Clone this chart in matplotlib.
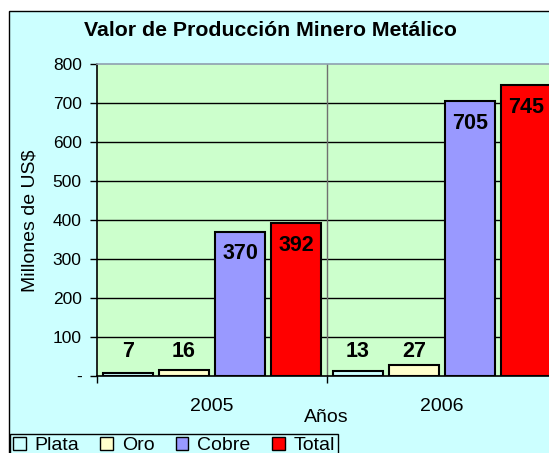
import numpy as np
import matplotlib
matplotlib.use("Agg")
import matplotlib.pyplot as plt
from matplotlib.patches import Rectangle
from matplotlib.ticker import FixedLocator, FuncFormatter

plt.rcParams['font.family'] = ['Liberation Sans', 'DejaVu Sans']

years = ["2005", "2006"]
series = ["Plata", "Oro", "Cobre", "Total"]
plata = [7, 13]
oro = [16, 27]
cobre = [370, 705]
total = [392, 745]
values = [plata, oro, cobre, total]
colors = ["#CCFFFF", "#FFFFCC", "#9999FF", "#FF0000"]
yticks = [0, 100, 200, 300, 400, 500, 600, 700, 800]

W, H = 549, 453
fig = plt.figure(figsize=(W / 100, H / 100), dpi=100)
fig.patch.set_facecolor("white")

# outer chart area frame
fig.patches.append(Rectangle((9 / W, -0.05), 1.1, 1 - 11 / H + 0.05,
                             transform=fig.transFigure, facecolor="#CCFFFF",
                             edgecolor="black", linewidth=1.0, zorder=-10))

ax = fig.add_axes([97 / W, 1 - 376 / H, 460 / W, 312 / H])
ax.set_facecolor("#CCFFCC")

x = np.arange(len(years))
step = 0.2435
width = 0.2196
bars = []
for i, (name, vals, col) in enumerate(zip(series, values, colors)):
    b = ax.bar(x + (i - 1.5) * step, vals, width, color=col, edgecolor="black",
               linewidth=1.5, label=name, zorder=3)
    bars.append(b)
    for xi, v in zip(x + (i - 1.5) * step, vals):
        if v < 100:
            ax.text(xi, 62, f"{v}", ha="center", va="center", fontsize=15.5,
                    fontweight="bold", zorder=4)
        else:
            ax.annotate(f"{v}", (xi, v), xytext=(0, -22), textcoords="offset pixels",
                        ha="center", va="center", fontsize=15.5, fontweight="bold", zorder=4)

ax.set_xlim(-0.5, 1.5)
ax.set_ylim(0, 800)
ax.set_yticks(yticks)
ax.yaxis.set_major_formatter(FuncFormatter(lambda v, p: "-" if v == 0 else f"{int(v)}"))
ax.tick_params(axis="y", direction="out", length=5, width=1, labelsize=12.5, pad=6)
for yv in yticks[1:-1]:
    ax.axhline(yv, color="black", linewidth=1, zorder=1)
ax.axvline(0.5, color="#707070", linewidth=1, zorder=1)

ax.xaxis.set_major_locator(FixedLocator([-0.5, 0.5, 1.5]))
ax.xaxis.set_major_formatter(FuncFormatter(lambda v, p: ""))
ax.set_xticks(x, labels=years, minor=True)
ax.tick_params(axis="x", which="major", direction="out", length=5, width=1)
ax.tick_params(axis="x", which="minor", length=0, labelsize=14, pad=16)

for s in ["left", "bottom"]:
    ax.spines[s].set_color("black")
    ax.spines[s].set_linewidth(1.2)
ax.spines["top"].set_color("#8FA0B0")
ax.spines["top"].set_linewidth(1.2)
ax.spines["right"].set_visible(False)

fig.text(270 / W, 1 - 31 / H, "Valor de Producción Minero Metálico", ha="center",
         va="center", fontsize=15.3, fontweight="bold")
fig.text(326 / W, 1 - 417 / H, "Años", ha="center", va="center", fontsize=14)
fig.text(30 / W, 1 - 221 / H, "Millones de US$", ha="center", va="center",
         fontsize=14, rotation=90)

leg = fig.legend(handles=bars, labels=series, loc="upper left",
                 bbox_to_anchor=(10 / W, 1 - 434 / H), ncol=4, fontsize=14,
                 frameon=True, fancybox=False, edgecolor="black", facecolor="#CCFFFF",
                 framealpha=1, borderpad=0.15, handlelength=0.65, handleheight=0.65,
                 handletextpad=0.45, columnspacing=1.1, borderaxespad=0)
leg.get_frame().set_linewidth(1.0)
for h in leg.legend_handles:
    h.set_linewidth(1.0)

fig.savefig("out.png", dpi=100)
